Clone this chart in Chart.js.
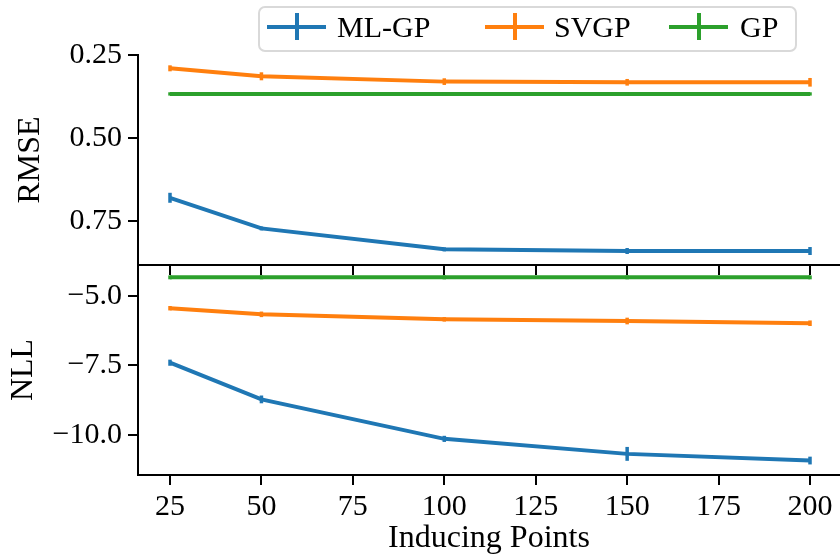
<!DOCTYPE html>
<html>
<head>
<meta charset="utf-8">
<script src="https://cdn.jsdelivr.net/npm/chart.js@4.4.1/dist/chart.umd.min.js"></script>
<style>
  html, body { margin: 0; padding: 0; background: #fff; overflow: hidden; }
  #wrap { position: relative; width: 840px; height: 555px; font-family: 'Liberation Serif', serif; }
  #wrap canvas { position: absolute; left: 0; top: 0; }
  .legend-box { position: absolute; left: 258px; top: 6px; width: 539px; height: 46px; box-sizing: border-box;
    border: 2px solid #d9d9d9; border-radius: 7px; background: rgba(255,255,255,0.85); }
  .handle { position: absolute; top: 13px; width: 59px; height: 27px; }
  .handle::before { content: ''; position: absolute; left: 0; top: 12px; width: 59px; height: 4px; background: var(--c); }
  .handle::after { content: ''; position: absolute; left: 28px; top: 0; width: 4px; height: 27px; background: var(--c); }
  .label { position: absolute; top: 12px; font-size: 30px; line-height: 1; color: #000; white-space: nowrap; }
</style>
</head>
<body>
<div id="wrap">
  <canvas id="nllChart" width="840" height="555"></canvas>
  <canvas id="rmseChart" width="840" height="555"></canvas>
  <div class="legend-box"></div>
  <div id="legend"></div>
</div>
<script>
// Number of inducing points used in each run
const inducingPoints = [25, 50, 100, 150, 200];

const seriesNames = ['ML-GP', 'SVGP', 'GP'];
const seriesColors = ['#1f77b4', '#ff7f0e', '#2ca02c'];

// Test RMSE (mean and error bar half-width)
const rmseMLGP = [0.679, 0.771, 0.834, 0.839, 0.839];
const rmseSVGP = [0.290, 0.314, 0.330, 0.332, 0.332];
const rmseGP   = [0.367, 0.367, 0.367, 0.367, 0.367];
const rmseErrMLGP = [0.015, 0.006, 0.006, 0.009, 0.012];
const rmseErrSVGP = [0.009, 0.012, 0.010, 0.010, 0.013];
const rmseErrGP   = [0.005, 0.005, 0.005, 0.005, 0.005];

// Test negative log-likelihood (mean and error bar half-width)
const nllMLGP = [-7.40, -8.72, -10.14, -10.68, -10.92];
const nllSVGP = [-5.44, -5.66, -5.84, -5.90, -5.98];
const nllGP   = [-4.33, -4.33, -4.33, -4.33, -4.33];
const nllErrMLGP = [0.11, 0.14, 0.11, 0.25, 0.14];
const nllErrSVGP = [0.08, 0.10, 0.08, 0.12, 0.10];
const nllErrGP   = [0.07, 0.07, 0.07, 0.07, 0.07];

// Axis tick settings
const xTickStep = 25;
const rmseTickStep = 0.25;
const nllTickStep = 2.5;

Chart.defaults.font.family = "'Liberation Serif', serif";
Chart.defaults.color = '#000';

const TICK_FONT = 30;
const TITLE_FONT = 32;
const INK = '#000';

function makeDatasets(values, errors) {
  return values.map((vals, i) => ({
    label: seriesNames[i],
    data: inducingPoints.map((x, j) => ({ x: x, y: vals[j] })),
    errors: errors[i],
    borderColor: seriesColors[i],
    backgroundColor: seriesColors[i],
    borderWidth: 4,
    pointRadius: 0,
    tension: 0,
    fill: false
  }));
}

// Vertical error bars at every point, drawn with the dataset colour
const errorBars = {
  id: 'errorBars',
  afterDatasetsDraw(chart) {
    const ctx = chart.ctx;
    const xs = chart.scales.x, ys = chart.scales.y;
    chart.data.datasets.forEach((ds, i) => {
      if (!chart.isDatasetVisible(i)) return;
      ctx.save();
      ctx.strokeStyle = ds.borderColor;
      ctx.lineWidth = 3.5;
      ds.data.forEach((p, j) => {
        const e = ds.errors[j];
        const px = xs.getPixelForValue(p.x);
        ctx.beginPath();
        ctx.moveTo(px, ys.getPixelForValue(p.y - e));
        ctx.lineTo(px, ys.getPixelForValue(p.y + e));
        ctx.stroke();
      });
      ctx.restore();
    });
  }
};

const minus = v => (v < 0 ? '\u2212' : '') + Math.abs(v).toFixed(1);

function gridOpts() {
  return { drawOnChartArea: false, drawTicks: true, tickLength: 10, color: INK, lineWidth: 2 };
}
function borderOpts() {
  return { display: true, color: INK, width: 2 };
}

const xMin = 16.25, xMax = 208.2;

// Upper panel: RMSE (axis reversed)
new Chart(document.getElementById('rmseChart'), {
  type: 'line',
  data: { datasets: makeDatasets([rmseMLGP, rmseSVGP, rmseGP], [rmseErrMLGP, rmseErrSVGP, rmseErrGP]) },
  plugins: [errorBars],
  options: {
    responsive: false,
    animation: false,
    devicePixelRatio: 1,
    layout: { padding: { top: 55, left: 0, right: 0, bottom: 280 } },
    plugins: { legend: { display: false }, tooltip: { enabled: false } },
    scales: {
      x: {
        type: 'linear', position: 'bottom', min: xMin, max: xMax,
        border: borderOpts(), grid: gridOpts(),
        ticks: { display: false, stepSize: xTickStep, includeBounds: false },
        afterFit: s => { s.height = 10; }
      },
      y: {
        type: 'linear', reverse: true, min: 0.25, max: 0.881,
        border: borderOpts(), grid: gridOpts(),
        ticks: { stepSize: rmseTickStep, includeBounds: false, padding: 6,
          font: { size: TICK_FONT }, color: INK, callback: v => v.toFixed(2) },
        title: { display: true, text: 'RMSE', font: { size: TITLE_FONT, lineHeight: 1 }, color: INK, padding: { top: 15, bottom: 0 } },
        afterFit: s => { s.width = 138; }
      }
    }
  }
});

// Lower panel: NLL
new Chart(document.getElementById('nllChart'), {
  type: 'line',
  data: { datasets: makeDatasets([nllMLGP, nllSVGP, nllGP], [nllErrMLGP, nllErrSVGP, nllErrGP]) },
  plugins: [errorBars],
  options: {
    responsive: false,
    animation: false,
    devicePixelRatio: 1,
    layout: { padding: { top: 265, left: 0, right: 0, bottom: 0 } },
    plugins: { legend: { display: false }, tooltip: { enabled: false } },
    scales: {
      x: {
        type: 'linear', position: 'bottom', min: xMin, max: xMax,
        border: borderOpts(), grid: gridOpts(),
        ticks: { stepSize: xTickStep, includeBounds: false, padding: 4, maxRotation: 0,
          font: { size: TICK_FONT }, color: INK },
        title: { display: true, text: 'Inducing Points', font: { size: TITLE_FONT, lineHeight: 1 }, color: INK, padding: { top: 0, bottom: 0 } },
        afterFit: s => { s.height = 80; }
      },
      y: {
        type: 'linear', min: -11.44, max: -3.885,
        border: borderOpts(), grid: gridOpts(),
        ticks: { stepSize: nllTickStep, includeBounds: false, padding: 6,
          font: { size: TICK_FONT }, color: INK, callback: minus },
        title: { display: true, text: 'NLL', font: { size: TITLE_FONT, lineHeight: 1 }, color: INK, padding: { top: 8, bottom: 0 } },
        afterFit: s => { s.width = 138; }
      }
    }
  }
});

// Legend entries: line with a vertical error-bar stroke, then the label
const legendHandleX = [267, 485, 669];
const legendLabelX = [337, 554, 740];
const legendEl = document.getElementById('legend');
seriesNames.forEach((name, i) => {
  const h = document.createElement('div');
  h.className = 'handle';
  h.style.left = legendHandleX[i] + 'px';
  h.style.setProperty('--c', seriesColors[i]);
  legendEl.appendChild(h);
  const t = document.createElement('div');
  t.className = 'label';
  t.style.left = legendLabelX[i] + 'px';
  t.textContent = name;
  legendEl.appendChild(t);
});
</script>
</body>
</html>
